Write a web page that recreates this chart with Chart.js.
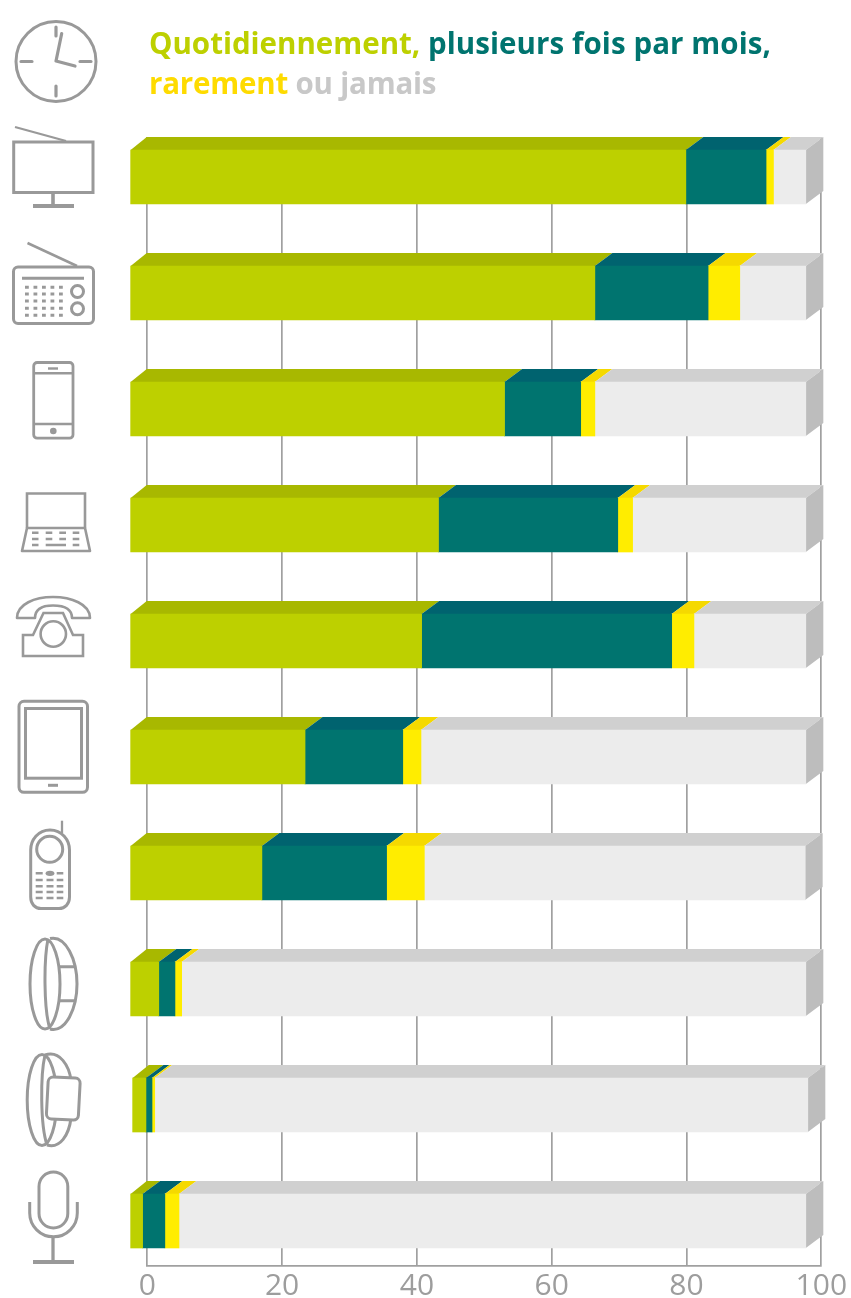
<!DOCTYPE html>
<html lang="fr"><head><meta charset="utf-8">
<style>
html,body{margin:0;padding:0;background:#fff;overflow:hidden}
#wrap{position:relative;width:851px;height:1298px}
canvas{position:absolute;left:0;top:0}
svg{position:absolute;left:0;top:0}
.t{position:absolute;left:149px;font:700 29.5px "Open Sans",sans-serif;white-space:nowrap;line-height:40px}
</style>
<script src="https://cdn.jsdelivr.net/npm/chart.js@4/dist/chart.umd.min.js"></script>
</head><body><div id="wrap">
<canvas id="c" width="851" height="1298"></canvas>
<div class="t" style="top:23px"><span style="color:#bdd000">Quotidiennement,</span> <span style="color:#00746f;letter-spacing:.08px">plusieurs fois par mois,</span></div>
<div class="t" style="top:63px;letter-spacing:-.2px"><span style="color:#fedb00">rarement</span> <span style="color:#c8c8c8">ou jamais</span></div>
<svg width="130" height="1298" viewBox="0 0 130 1298" fill="none" stroke="#999" stroke-width="3">
 <!-- horloge -->
 <circle cx="56" cy="61.5" r="40"/>
 <path d="M56 27V36M56 86V96M21 61.5H32M80 61.5H91" stroke-width="3.2" stroke-linecap="round"/>
 <path d="M61.7 33.5L56 61L75 66" stroke-width="3.2" stroke-linecap="round" stroke-linejoin="round"/>
 <!-- télévision -->
 <rect x="13.7" y="142" width="79.3" height="50.5"/>
 <path d="M15 127L66 141" stroke-width="2.3"/>
 <path d="M53 193V205" stroke-width="3.6"/><path d="M33 206H74" stroke-width="3.8"/>
 <!-- radio -->
 <rect x="13.5" y="267" width="80" height="56.5" rx="4.5"/>
 <path d="M27.5 243L77 266" stroke-width="2.5"/>
 <path d="M22 278.3H84" stroke-width="2.9"/>
 <path d="M25 287.3H63M25 294H63M25 301H63M25 308.3H63M25 315.3H63" stroke-width="2.9" stroke-dasharray="3.8 4.7"/>
 <circle cx="77.5" cy="291.5" r="6"/><circle cx="77.5" cy="308.7" r="6"/>
 <!-- smartphone -->
 <rect x="33.7" y="362.5" width="39.3" height="75.7" rx="3.5" stroke-width="2.8"/>
 <path d="M33.7 373.3H73M33.7 424H73" stroke-width="2.5"/>
 <path d="M48 368.5H58" stroke-width="2.4"/>
 <circle cx="53.3" cy="431" r="3.3" fill="#999" stroke="none"/>
 <!-- ordinateur portable -->
 <path d="M27 528V493.5H85V528" stroke-width="2.6"/>
 <path d="M27 528L22 551H90L85 528Z" stroke-width="2.6" stroke-linejoin="round"/>
 <path d="M32 532.7H38.5M45.7 532.7H52.3M59.3 532.7H66M72.7 532.7H79.3M32 539H38.5M45.7 539H52.3M59.3 539H66M72.7 539H79.3M32 545H38.5M45.7 545H66M72.7 545H79.3" stroke-width="2.4"/>
 <!-- téléphone fixe -->
 <path d="M17 618C17 604 35 597 53 597C71 597 90 604 90 618H72C72 608 62 605.5 53 605.5C44 605.5 35 608 35 618Z" stroke-width="2.6" stroke-linejoin="round"/>
 <path d="M23 635H33L43.5 613H63L73 635H83V656H23Z" stroke-width="2.6"/>
 <circle cx="53.3" cy="634" r="12.7" stroke-width="2.6"/>
 <!-- tablette -->
 <rect x="19" y="701.3" width="68.5" height="91" rx="5"/>
 <rect x="25.5" y="708.5" width="56" height="69.7"/>
 <path d="M48 785.3H58" stroke-width="3"/>
 <!-- téléphone mobile -->
 <path d="M50 830C38 830 30.7 840 30.7 850V897C30.7 904 35 908.5 41 908.5H59C65 908.5 69.5 904 69.5 897V850C69.5 840 62 830 50 830Z"/>
 <path d="M62 820.7V833" stroke-width="2.3"/>
 <circle cx="49.7" cy="849.3" r="13"/>
 <ellipse cx="50" cy="873.3" rx="4.4" ry="2.6" fill="#999" stroke="none"/>
 <path d="M35.7 873.3H42.7M56.7 873.3H63.3M35.7 880H42.7M46.5 880H53.5M56.7 880H63.3M35.7 886.3H42.7M46.5 886.3H53.5M56.7 886.3H63.3M35.7 892H42.7M46.5 892H53.5M56.7 892H63.3M35.7 898H42.7M46.5 898H53.5M56.7 898H63.3" stroke-width="2.5"/>
 <!-- bracelet -->
 <ellipse cx="45" cy="984" rx="15" ry="45"/>
 <path d="M48 939C43.7 960 43.7 1010 50 1029"/>
 <path d="M50 938.5C66 935 77 960 77 984C77 1008 66 1033 50 1029"/>
 <path d="M60 966.7H75M60 1000.7H74"/>
 <!-- montre -->
 <ellipse cx="42" cy="1100" rx="14.8" ry="45.5"/>
 <path d="M45 1055C40.3 1075 40.3 1125 47 1145"/>
 <path d="M45 1055C60 1050 69 1066 71 1080M71 1118C69 1135 60 1149 47 1145"/>
 <rect x="47.3" y="1077.5" width="32" height="42" rx="5" transform="rotate(3 63 1098)" fill="#fff"/>
 <!-- micro -->
 <rect x="39" y="1172" width="28.8" height="56" rx="14.4"/>
 <path d="M29.7 1202V1213A23.8 23.8 0 0 0 77.3 1213V1202"/>
 <path d="M53 1237V1261" stroke-width="3.3"/><path d="M33 1262H74" stroke-width="3.8"/>
</svg>
</div>
<script>
const categories=["Télévision","Radio","Smartphone","Ordinateur portable","Téléphone fixe","Tablette","Téléphone mobile","Bracelet connecté","Montre connectée","Assistant vocal"];
const quotidiennement=[82.5,69.0,55.6,45.8,43.3,26.0,19.6,4.3,2.1,1.9];
const plusieursFois=[11.9,16.8,11.3,26.6,37.1,14.5,18.5,2.4,0.9,3.3];
const rarement=[1.1,4.7,2.1,2.2,3.3,2.7,5.6,1.0,0.4,2.1];
const jamais=[4.8,9.8,31.3,25.7,16.6,57.1,56.5,92.6,96.9,93.0];
const xTicks=[0,20,40,60,80,100];

const DX=-17.5, DY=13, GRID='#a0a0a0';
const rowShift=i=>i===8?2:0;
const TOP_COLORS=['#a8b800','#00636f','#f5d900','#d0d0d0'];
const SIDE_COLOR='#bdbdbd';

const extrude={
 id:'extrude',
 beforeDatasetsDraw(chart){
  const {ctx,chartArea:a}=chart;
  ctx.save();
  ctx.fillStyle='#fff';
  ctx.fillRect(a.left-2,a.top-2,a.width+4,31+2);
  chart.data.datasets.forEach((ds,d)=>{
   chart.getDatasetMeta(d).data.forEach((el,i)=>{
    const p=el.getProps(['x','y','base','height'],true);
    const s=rowShift(i), l=p.base+s, r=p.x+s, t=p.y-p.height/2, b=p.y+p.height/2;
    const backL=d===0?l-1.4:l;
    ctx.fillStyle=TOP_COLORS[d];
    ctx.beginPath();ctx.moveTo(backL,t);ctx.lineTo(r,t);ctx.lineTo(r+DX,t+DY);ctx.lineTo(l+DX,t+DY);ctx.closePath();ctx.fill();
    if(d===chart.data.datasets.length-1){
     ctx.fillStyle=SIDE_COLOR;
     ctx.beginPath();ctx.moveTo(r,t);ctx.lineTo(r,b);ctx.lineTo(r+DX,b+DY);ctx.lineTo(r+DX,t+DY);ctx.closePath();ctx.fill();
    }
   });
  });
  ctx.restore();
 },
 beforeDatasetDraw(chart,args){
  const ctx=chart.ctx;
  args.meta.data.forEach((el,i)=>{
   ctx.save();ctx.translate(DX+rowShift(i),DY);el.draw(ctx);ctx.restore();
  });
  return false;
 }
};

new Chart(document.getElementById('c'),{
 type:'bar',
 data:{labels:categories,datasets:[
  {label:'Quotidiennement',data:quotidiennement,backgroundColor:'#bdd000'},
  {label:'Plusieurs fois par mois',data:plusieursFois,backgroundColor:'#00746f'},
  {label:'Rarement',data:rarement,backgroundColor:'#ffed00'},
  {label:'Jamais',data:jamais,backgroundColor:'#ececec'}
 ]},
 plugins:[extrude],
 options:{
  indexAxis:'y',responsive:false,animation:false,devicePixelRatio:1,
  layout:{padding:{left:147.3,right:29.7,top:106,bottom:0}},
  datasets:{bar:{barThickness:54,borderWidth:0,clip:false}},
  plugins:{legend:{display:false},tooltip:{enabled:false}},
  scales:{
   x:{type:'linear',min:0,max:100,stacked:true,
    afterFit(s){s.height=32},
    afterBuildTicks(s){s.ticks=xTicks.map(v=>({value:v}))},
    grid:{color:GRID,lineWidth:1.7,drawTicks:false},
    border:{color:GRID,width:1.7},
    ticks:{color:'#9d9d9d',font:{family:'"Open Sans"',size:30},padding:2,maxRotation:0,autoSkip:false}
   },
   y:{type:'category',stacked:true,display:false}
  }
 }
});
</script></body></html>
